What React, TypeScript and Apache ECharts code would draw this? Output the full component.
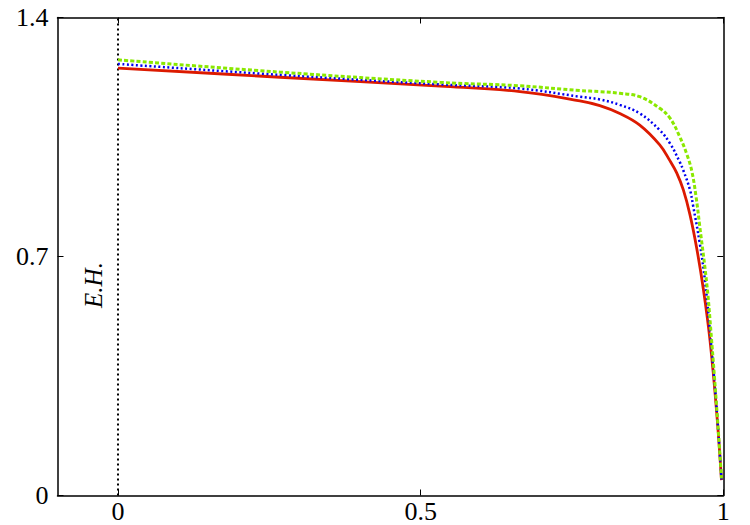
import React, { useEffect, useRef } from "react";
import * as echarts from "echarts";

const xTicks = [0, 0.5, 1];
const yTicks = [0, 0.7, 1.4];

const redX = [0, 0.268, 0.532, 0.664, 0.763, 0.796, 0.829, 0.862, 0.895, 0.912, 0.923, 0.934, 0.945, 0.956, 0.967, 0.978, 0.989, 0.997];
const redY = [1.252, 1.225, 1.199, 1.183, 1.156, 1.142, 1.119, 1.085, 1.027, 0.98, 0.945, 0.895, 0.822, 0.725, 0.605, 0.455, 0.245, 0.045];

const blueX = [0, 0.268, 0.532, 0.664, 0.763, 0.796, 0.829, 0.862, 0.895, 0.912, 0.928, 0.934, 0.945, 0.95, 0.961, 0.97, 0.978, 0.989, 0.997];
const blueY = [1.264, 1.232, 1.204, 1.192, 1.168, 1.16, 1.144, 1.119, 1.07, 1.031, 0.977, 0.952, 0.895, 0.85, 0.74, 0.625, 0.48, 0.255, 0.045];

const greenX = [0, 0.268, 0.532, 0.664, 0.763, 0.796, 0.829, 0.862, 0.895, 0.912, 0.928, 0.94, 0.948, 0.955, 0.961, 0.973, 0.98, 0.989, 0.997];
const greenY = [1.276, 1.24, 1.21, 1.2, 1.186, 1.183, 1.178, 1.168, 1.134, 1.105, 1.051, 0.998, 0.95, 0.875, 0.79, 0.615, 0.47, 0.26, 0.05];

const horizonX = [0, 0];
const horizonY = [0, 1.4];
const horizonLabel = "E.H.";

const zip = (xs: number[], ys: number[]) => xs.map((x, i) => [x, ys[i]]);

const FONT = "Liberation Serif";

export default function App() {
  const ref = useRef<HTMLDivElement>(null);
  useEffect(() => {
    if (!ref.current) return;
    const chart = echarts.init(ref.current, undefined, { renderer: "svg" });
    const axisLine = { show: true, onZero: false, lineStyle: { color: "#000", width: 1.5 } };
    chart.setOption({
      animation: false,
      backgroundColor: "#fff",
      grid: { left: 57.5, right: 26.7, top: 17.5, bottom: 29.5, containLabel: false },
      xAxis: [
        {
          type: "value",
          min: -0.1,
          max: 1,
          position: "bottom",
          axisLine,
          splitLine: { show: false },
          axisTick: { show: true, inside: true, length: 6, customValues: xTicks, lineStyle: { color: "#000", width: 1 } },
          axisLabel: { customValues: xTicks, color: "#000", fontFamily: FONT, fontSize: 26, margin: 3, formatter: (v: number) => String(v) },
        },
        {
          type: "value",
          min: -0.1,
          max: 1,
          position: "top",
          axisLine,
          splitLine: { show: false },
          axisTick: { show: true, inside: true, length: 6, customValues: xTicks, lineStyle: { color: "#000", width: 1 } },
          axisLabel: { show: false },
        },
      ],
      yAxis: [
        {
          type: "value",
          min: 0,
          max: 1.4,
          interval: 0.7,
          position: "left",
          axisLine,
          splitLine: { show: false },
          axisTick: { show: true, inside: true, length: 6, lineStyle: { color: "#000", width: 1 } },
          axisLabel: { color: "#000", fontFamily: FONT, fontSize: 26, margin: 9, formatter: (v: number) => (yTicks.includes(v) ? String(v) : "") },
        },
        {
          type: "value",
          min: 0,
          max: 1.4,
          interval: 0.7,
          position: "right",
          axisLine,
          splitLine: { show: false },
          axisTick: { show: true, inside: true, length: 6, lineStyle: { color: "#000", width: 1 } },
          axisLabel: { show: false },
        },
      ],
      series: [
        {
          type: "line",
          data: zip(horizonX, horizonY),
          showSymbol: false,
          lineStyle: { color: "#000", width: 2, type: [2, 3] },
          z: 1,
        },
        {
          type: "line",
          data: zip(redX, redY),
          showSymbol: false,
          smooth: 0.4,
          lineStyle: { color: "#dc1a00", width: 2.8 },
          z: 2,
        },
        {
          type: "line",
          data: zip(blueX, blueY),
          showSymbol: false,
          smooth: 0.4,
          lineStyle: { color: "#0000f0", width: 2.5, type: [2, 2.5] },
          z: 3,
        },
        {
          type: "line",
          data: zip(greenX, greenY),
          showSymbol: false,
          smooth: 0.4,
          lineStyle: { color: "#8ae800", width: 3, type: [4, 2.2] },
          z: 4,
        },
      ],
      graphic: [
        {
          type: "text",
          x: 93,
          y: 285,
          rotation: Math.PI / 2,
          style: {
            text: horizonLabel,
            fill: "#000",
            fontFamily: FONT,
            fontStyle: "italic",
            fontSize: 25,
            align: "center",
            verticalAlign: "middle",
          },
        },
      ],
    });
    return () => chart.dispose();
  }, []);
  return (
    <div
      ref={ref}
      style={{ position: "fixed", left: 0, top: 0, width: 750, height: 525, background: "#fff" }}
    />
  );
}
